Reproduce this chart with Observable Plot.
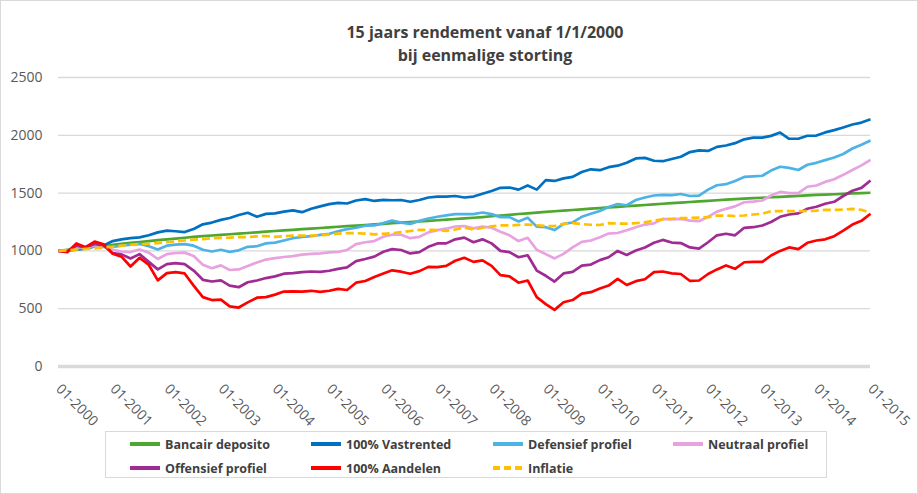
<!DOCTYPE html>
<html>
<head>
<meta charset="utf-8">
<script src="https://cdn.jsdelivr.net/npm/d3@7"></script>
<script src="https://cdn.jsdelivr.net/npm/@observablehq/plot@0.6"></script>
<style>
  html, body { margin: 0; padding: 0; background: #fff; }
  #chart { position: relative; width: 918px; height: 494px; overflow: hidden; font-family: "Open Sans", sans-serif; }
  #frame { position: absolute; left: 0; top: 0; width: 916px; height: 492px; border: 1px solid #d9d9d9; pointer-events: none; }
  #title { position: absolute; left: 35px; width: 900px; top: 21px; text-align: center; font-weight: 700; font-size: 16px; line-height: 23px; color: #404040; }
  #plot { position: absolute; left: 0; top: 0; }
  #legend { position: absolute; left: 105px; top: 431px; width: 722px; height: 47px; border: 1px solid #d9d9d9; box-sizing: border-box; }
  .item { position: absolute; display: flex; align-items: center; font-weight: 700; font-size: 12.5px; color: #404040; white-space: nowrap; height: 20px; }
  .item svg { margin-right: 5px; }
</style>
</head>
<body>
<div id="chart">
  <div id="plot"></div>
  <div id="title">15 jaars rendement vanaf 1/1/2000<br>bij eenmalige storting</div>
  <div id="legend"></div>
  <div id="frame"></div>
</div>
<script>
// Value of a one-off deposit of 1000 at 1/1/2000, every two months up to 01-2015
const startYear = 2000;
const stepMonths = 2;

const deposito = [
  1000,1009,1018,1027,1036,1045,1053,1061,1069,1077,
  1085,1093,1100,1107,1114,1122,1128,1133,1139,1144,
  1150,1155,1161,1166,1172,1177,1182,1188,1193,1198,
  1204,1209,1214,1219,1224,1229,1234,1239,1244,1249,
  1255,1260,1265,1270,1276,1281,1287,1293,1300,1306,
  1312,1319,1325,1331,1337,1343,1348,1354,1359,1365,
  1370,1376,1381,1387,1392,1397,1403,1408,1413,1418,
  1423,1428,1433,1438,1443,1448,1452,1456,1460,1464,
  1468,1472,1476,1480,1484,1487,1490,1494,1497,1500,
  1503];

const vastrented = [
  1000,1002,1010,1020,1040,1048,1085,1100,1110,1117,
  1135,1160,1175,1170,1163,1190,1230,1245,1268,1285,
  1310,1330,1295,1320,1325,1340,1350,1335,1365,1385,
  1405,1415,1410,1436,1448,1432,1442,1438,1440,1425,
  1440,1462,1470,1470,1475,1462,1470,1494,1518,1546,
  1548,1530,1566,1530,1612,1605,1627,1640,1683,1706,
  1698,1724,1737,1762,1800,1805,1780,1776,1795,1815,
  1855,1870,1865,1900,1912,1932,1965,1980,1980,1995,
  2024,1970,1970,1996,1998,2025,2045,2068,2093,2110,
  2138];

const defensief = [
  1000,1000,1025,1022,1040,1035,1035,1045,1055,1060,
  1040,1012,1045,1055,1058,1045,1010,995,1010,992,
  1005,1035,1040,1065,1072,1090,1110,1120,1127,1138,
  1148,1170,1188,1200,1218,1220,1240,1262,1245,1234,
  1260,1280,1295,1308,1318,1318,1318,1332,1318,1292,
  1292,1255,1286,1210,1205,1180,1234,1246,1295,1321,
  1345,1380,1405,1395,1440,1462,1479,1485,1482,1492,
  1475,1479,1530,1568,1577,1605,1640,1645,1650,1695,
  1728,1718,1700,1745,1762,1785,1808,1838,1886,1918,
  1955];

const neutraal = [
  1000,998,1035,1030,1050,1040,1010,995,990,1012,
  985,930,972,982,985,955,880,850,875,835,
  840,870,900,925,937,947,955,968,974,978,
  987,992,1008,1058,1075,1085,1122,1140,1140,1110,
  1122,1160,1180,1192,1211,1215,1195,1210,1200,1165,
  1135,1085,1113,1010,972,935,974,1030,1078,1090,
  1118,1150,1155,1178,1205,1228,1238,1277,1272,1277,
  1262,1257,1295,1340,1364,1385,1421,1427,1436,1479,
  1510,1500,1499,1555,1566,1597,1620,1658,1700,1740,
  1788];

const offensief = [
  1000,995,1045,1030,1060,1045,980,970,935,972,
  905,840,885,895,885,830,750,735,745,700,
  686,729,744,765,780,803,808,816,822,818,
  828,845,858,912,930,950,993,1015,1008,978,
  990,1035,1065,1065,1100,1115,1075,1100,1065,1000,
  990,945,962,830,785,735,805,818,872,882,
  920,945,1000,965,1003,1030,1070,1095,1072,1068,
  1030,1020,1075,1135,1148,1135,1200,1205,1220,1250,
  1295,1315,1325,1365,1382,1408,1425,1475,1520,1545,
  1609];

const aandelen = [
  1000,990,1065,1032,1080,1058,975,950,865,940,
  880,745,808,816,805,700,600,575,578,520,
  510,555,595,600,622,648,650,648,655,645,
  655,672,662,725,740,775,805,832,820,802,
  825,862,860,870,915,940,905,918,870,790,
  780,725,744,600,540,490,556,575,630,643,
  675,700,758,705,738,755,816,822,805,800,
  740,744,800,840,874,845,902,905,905,960,
  1000,1030,1015,1070,1090,1100,1127,1175,1228,1260,
  1321];

const inflatie = [
  1000,1005,1012,1018,1022,1030,1035,1045,1052,1058,
  1062,1068,1075,1082,1090,1098,1102,1110,1112,1115,
  1120,1120,1126,1128,1122,1126,1132,1133,1133,1135,
  1140,1150,1153,1153,1150,1143,1148,1153,1163,1172,
  1182,1182,1180,1172,1185,1203,1185,1200,1212,1220,
  1220,1225,1228,1222,1215,1215,1234,1240,1232,1226,
  1224,1240,1236,1236,1240,1248,1262,1272,1278,1283,
  1285,1288,1292,1305,1306,1302,1306,1315,1321,1344,
  1344,1344,1344,1345,1348,1355,1355,1358,1364,1355,
  1330];

const seriesNames  = ["Bancair deposito", "100% Vastrented", "Defensief profiel", "Neutraal profiel",
                      "Offensief profiel", "100% Aandelen", "Inflatie"];
const seriesValues = [deposito, vastrented, defensief, neutraal, offensief, aandelen, inflatie];
const seriesColors = ["#4ea72e", "#0070c0", "#4db3e6", "#e8a2e0", "#a02b93", "#ff0000", "#ffc000"];
const seriesDashed = [false, false, false, false, false, false, true];

const yTicks = [0, 500, 1000, 1500, 2000, 2500];
const xTickYears = [2000, 2001, 2002, 2003, 2004, 2005, 2006, 2007,
                    2008, 2009, 2010, 2011, 2012, 2013, 2014, 2015];

const monthDate = (i) => new Date(Date.UTC(startYear, i * stepMonths, 1));
const xTicks = xTickYears.map(y => new Date(Date.UTC(y, 0, 1)));

const lineMarks = seriesNames.map((name, s) =>
  Plot.line(seriesValues[s].map((v, i) => ({date: monthDate(i), value: v, series: name})), {
    x: "date",
    y: "value",
    stroke: seriesColors[s],
    strokeWidth: 2.7,
    strokeLinejoin: "round",
    strokeLinecap: "butt",
    strokeDasharray: seriesDashed[s] ? "8,4" : null
  })
);

const chart = Plot.plot({
  width: 918,
  height: 494,
  marginLeft: 58,
  marginRight: 48,
  marginTop: 77,
  marginBottom: 128,
  style: {fontFamily: "'Open Sans', sans-serif", fontSize: "14px", color: "#595959", background: "transparent"},
  x: {type: "utc", domain: [new Date(Date.UTC(2000, 0, 1)), new Date(Date.UTC(2015, 0, 1))]},
  y: {domain: [0, 2500]},
  marks: [
    Plot.gridY(yTicks.filter(d => d > 0), {stroke: "#d9d9d9", strokeOpacity: 1, strokeWidth: 1.3}),
    Plot.ruleY([0], {stroke: "#d9d9d9", strokeWidth: 3.5}),
    Plot.axisY(yTicks, {tickSize: 0, tickPadding: 16, fontSize: 14, label: null, tickFormat: d => String(d)}),
    Plot.axisX(xTicks, {
      tickSize: 0, tickPadding: 20, tickRotate: 45, fontSize: 14, label: null,
      tickFormat: d => "01-" + d.getUTCFullYear()
    }),
    ...lineMarks
  ]
});
document.getElementById("plot").appendChild(chart);

// Legend: four columns, two rows
const legend = document.getElementById("legend");
const colX = [24, 205, 387, 567];
const rowY = [2, 26];
seriesNames.forEach((name, s) => {
  const item = document.createElement("div");
  item.className = "item";
  item.style.left = colX[s % 4] + "px";
  item.style.top = rowY[Math.floor(s / 4)] + "px";
  const dash = seriesDashed[s] ? ' stroke-dasharray="7,4"' : "";
  item.innerHTML =
    `<svg width="30" height="6"><line x1="0" x2="30" y1="3" y2="3" stroke="${seriesColors[s]}" stroke-width="4"${dash}/></svg>` +
    `<span>${name}</span>`;
  legend.appendChild(item);
});
</script>
</body>
</html>
